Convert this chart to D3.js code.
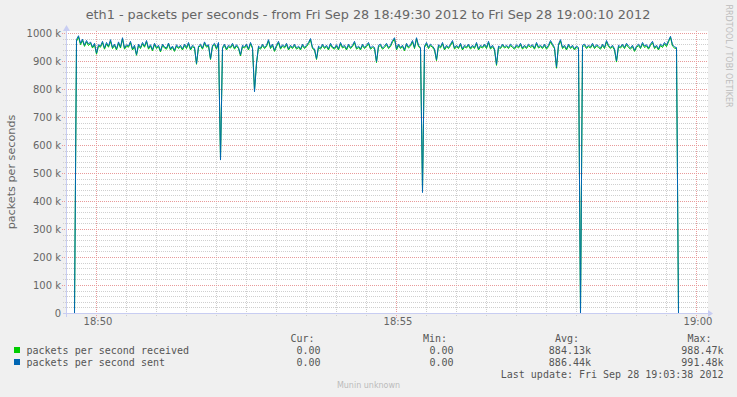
<!DOCTYPE html>
<html>
<head>
<meta charset="utf-8">
<title>eth1 - packets per seconds</title>
<script src="https://cdnjs.cloudflare.com/ajax/libs/d3/7.8.5/d3.min.js"></script>
<style>
  body { margin: 0; background: #f0f0f0; }
  svg text { font-family: "DejaVu Sans", sans-serif; fill: #666; }
  svg .mono { font-family: "DejaVu Sans Mono", monospace; font-size: 10px; fill: #555; }
</style>
</head>
<body>
<div id="chart"></div>
<script>
// samples every 2 s starting 18:49:30, values in k packets/s
var stepSeconds = 2;

var sent = [
  0,0,0,0,0,978,992,965,980,958,975,962,970,952,965,930,960,955,972,948,
  968,955,978,950,962,945,970,952,985,948,960,955,972,945,958,925,962,950,968,955,
  975,948,960,942,965,950,958,938,962,952,948,966,945,955,940,960,950,958,945,962,
  950,968,945,958,952,893,955,962,948,970,955,960,910,958,965,948,968,548,950,962,
  945,958,952,965,948,960,950,924,958,952,962,945,968,950,792,895,955,948,962,950,
  958,978,950,962,940,958,972,948,960,952,965,945,958,950,962,948,955,945,962,950,
  958,968,982,950,945,910,955,948,962,950,958,945,965,952,948,960,945,968,952,958,
  945,962,950,958,972,948,955,945,962,950,958,968,948,955,950,900,958,962,948,955,
  965,950,958,975,985,945,962,950,958,942,965,952,960,975,950,985,958,950,432,955,
  968,950,962,955,945,906,960,952,968,945,958,950,962,975,948,958,950,965,945,958,
  952,962,948,958,950,968,945,958,952,962,950,972,948,958,945,890,955,950,962,952,
  958,950,962,955,948,960,952,965,948,958,950,962,955,960,948,968,952,958,950,962,
  948,958,975,962,950,880,962,978,950,958,945,962,950,958,945,955,950,0,958,962,
  950,958,952,965,950,960,955,948,962,950,975,958,950,958,945,902,958,952,962,950,
  965,955,948,958,940,955,962,950,968,955,960,948,962,972,950,958,945,962,955,968,
  958,975,990,960,952,950,0,0,0,0,0,0,0,0,0,0,0,0,0,0,
  0
];

var received = [
  0,0,0,0,0,972,987,960,975,954,970,957,965,948,960,926,955,951,967,944,
  963,951,972,946,957,941,965,948,980,944,955,951,967,941,953,922,957,946,963,951,
  970,944,955,938,960,946,953,934,957,948,944,961,941,950,936,955,946,953,941,957,
  946,963,941,953,948,890,950,957,944,965,951,955,907,953,960,944,963,552,946,957,
  941,953,948,960,944,955,946,920,953,948,957,941,963,946,798,892,950,944,957,946,
  953,973,946,957,936,953,967,944,955,948,960,941,953,946,957,944,950,941,957,946,
  953,963,977,946,941,907,950,944,957,946,953,941,960,948,944,955,941,963,948,953,
  941,957,946,953,967,944,950,941,957,946,953,963,944,950,946,896,953,957,944,950,
  960,946,953,970,980,941,957,946,953,938,960,948,955,970,946,980,953,946,438,950,
  963,946,957,950,941,903,955,948,963,941,953,946,957,970,944,953,946,960,941,953,
  948,957,944,953,946,963,941,953,948,957,946,967,944,953,941,886,950,946,957,948,
  953,946,957,950,944,955,948,960,944,953,946,957,950,955,944,963,948,953,946,957,
  944,953,970,957,946,876,957,973,946,953,941,957,946,953,941,950,946,0,953,957,
  946,953,948,960,946,955,950,944,957,946,970,953,946,953,941,898,953,948,957,946,
  960,950,944,953,936,950,957,946,963,950,955,944,957,967,946,953,941,957,950,963,
  953,970,986,955,948,946,0,0,0,0,0,0,0,0,0,0,0,0,0,0,
  0
];

var yTicks = [0, 100000, 200000, 300000, 400000, 500000, 600000, 700000, 800000, 900000, 1000000];
var seriesNames = ["packets per second received", "packets per second sent"];
var seriesColors = ["#00cc00", "#0066b3"];
var curValues = ["0.00", "0.00"];
var minValues = ["0.00", "0.00"];
var avgValues = ["884.13k", "886.44k"];
var maxValues = ["988.47k", "991.48k"];

var startTime = new Date(2012, 8, 28, 18, 49, 30);
var endTime = new Date(2012, 8, 28, 19, 0, 10);

var W = 737, H = 397;
var axisColor = "#c8cdf2";
var minorColor = "#cfcfcf";
var majorColor = "#e89a9a";

var svg = d3.select("#chart").append("svg")
    .attr("width", W)
    .attr("height", H);

svg.append("rect").attr("width", W).attr("height", H).attr("fill", "#f0f0f0");

var x = d3.scaleTime().domain([startTime, endTime]).range([66.5, 706.5]);
var y = d3.scaleLinear().domain([0, 1000000]).range([313.5, 33.5]);

function crisp(v) { return Math.round(v - 0.5) + 0.5; }

// canvas
svg.append("rect")
    .attr("x", 67).attr("y", 31)
    .attr("width", 641).attr("height", 282)
    .attr("fill", "#ffffff");

// minor grid
var minorY = d3.range(20000, 1000001, 20000).filter(function(v) { return v % 100000 !== 0; });
svg.append("g").selectAll("line").data(minorY).enter().append("line")
    .attr("x1", 63).attr("x2", 708)
    .attr("y1", function(d) { return crisp(y(d)); })
    .attr("y2", function(d) { return crisp(y(d)); })
    .attr("stroke", minorColor).attr("stroke-dasharray", "1,1");

var minorX = d3.timeSecond.every(30).range(startTime, endTime)
    .filter(function(d) { return d > startTime && !(d.getSeconds() === 0 && d.getMinutes() % 5 === 0); });
svg.append("g").selectAll("line").data(minorX).enter().append("line")
    .attr("x1", function(d) { return crisp(x(d)); })
    .attr("x2", function(d) { return crisp(x(d)); })
    .attr("y1", 31).attr("y2", 317)
    .attr("stroke", minorColor).attr("stroke-dasharray", "1,1");

// major grid
svg.append("g").selectAll("line").data(yTicks.filter(function(v) { return v > 0; })).enter().append("line")
    .attr("x1", 62).attr("x2", 708)
    .attr("y1", function(d) { return crisp(y(d)); })
    .attr("y2", function(d) { return crisp(y(d)); })
    .attr("stroke", majorColor).attr("stroke-dasharray", "1,1");

var majorX = x.ticks(d3.timeMinute.every(5));
svg.append("g").selectAll("line").data(majorX).enter().append("line")
    .attr("x1", function(d) { return crisp(x(d)); })
    .attr("x2", function(d) { return crisp(x(d)); })
    .attr("y1", 31).attr("y2", 318)
    .attr("stroke", majorColor).attr("stroke-dasharray", "1,1");

// data lines
var sampleTimes = sent.map(function(v, i) { return new Date(+startTime + i * stepSeconds * 1000); });
var line = d3.line()
    .x(function(d) { return x(d[0]); })
    .y(function(d) { return y(d[1] * 1000); });

[received, sent].forEach(function(series, k) {
    svg.append("path")
        .datum(series.map(function(v, i) { return [sampleTimes[i], v]; }))
        .attr("d", line)
        .attr("fill", "none")
        .attr("stroke", seriesColors[k])
        .attr("stroke-width", 1);
});

// axes lines with arrows
svg.append("line").attr("x1", 66.5).attr("x2", 66.5).attr("y1", 29).attr("y2", 317)
    .attr("stroke", axisColor);
svg.append("line").attr("x1", 63).attr("x2", 709).attr("y1", 313.5).attr("y2", 313.5)
    .attr("stroke", axisColor);
svg.append("path").attr("d", "M63,31 L70,31 L66.5,25 Z").attr("fill", axisColor);
svg.append("path").attr("d", "M708,310 L708,317 L713,313.5 Z").attr("fill", axisColor);

// tick labels
var yAxis = d3.axisLeft(y)
    .tickValues(yTicks)
    .tickSize(0)
    .tickPadding(5.5)
    .tickFormat(function(d) { return d === 0 ? "0" : (d / 1000) + " k"; });
var gy = svg.append("g").attr("transform", "translate(66.5,0)").call(yAxis);
gy.select(".domain").remove();
gy.selectAll("text").attr("font-size", "10px").attr("font-family", null).style("fill", "#666");

var xAxis = d3.axisBottom(x)
    .tickValues(majorX)
    .tickSize(0)
    .tickPadding(4.5)
    .tickFormat(d3.timeFormat("%H:%M"));
var gx = svg.append("g").attr("transform", "translate(1,313.5)").call(xAxis);
gx.select(".domain").remove();
gx.selectAll("text").attr("font-size", "10px").attr("font-family", null).style("fill", "#666");

// title
svg.append("text")
    .attr("x", 368).attr("y", 18.5)
    .attr("text-anchor", "middle")
    .attr("font-size", "12.8px")
    .text("eth1 - packets per seconds - from Fri Sep 28 18:49:30 2012 to Fri Sep 28 19:00:10 2012");

// vertical label
svg.append("text")
    .attr("transform", "translate(14.5,172) rotate(-90)")
    .attr("text-anchor", "middle")
    .attr("font-size", "11.2px")
    .text("packets per seconds");

// watermark
svg.append("text")
    .attr("transform", "translate(725.5,56) rotate(90)")
    .attr("text-anchor", "middle")
    .attr("font-size", "8px")
    .style("fill", "#bdbdbd")
    .text("RRDTOOL / TOBI OETIKER");

// legend
var legend = svg.append("g");
legend.append("text").attr("class", "mono").attr("x", 290.5).attr("y", 341.5).text("Cur:");
legend.append("text").attr("class", "mono").attr("x", 423).attr("y", 341.5).text("Min:");
legend.append("text").attr("class", "mono").attr("x", 555).attr("y", 341.5).text("Avg:");
legend.append("text").attr("class", "mono").attr("x", 687.5).attr("y", 341.5).text("Max:");

seriesNames.forEach(function(name, k) {
    var by = 354 + k * 12;
    legend.append("rect").attr("x", 14).attr("y", by - 7).attr("width", 6).attr("height", 6)
        .attr("fill", seriesColors[k]);
    legend.append("text").attr("class", "mono").attr("x", 26.5).attr("y", by).text(name);
    legend.append("text").attr("class", "mono").attr("x", 320.5).attr("y", by)
        .attr("text-anchor", "end").text(curValues[k]);
    legend.append("text").attr("class", "mono").attr("x", 453.5).attr("y", by)
        .attr("text-anchor", "end").text(minValues[k]);
    legend.append("text").attr("class", "mono").attr("x", 591).attr("y", by)
        .attr("text-anchor", "end").text(avgValues[k]);
    legend.append("text").attr("class", "mono").attr("x", 723.5).attr("y", by)
        .attr("text-anchor", "end").text(maxValues[k]);
});

legend.append("text").attr("class", "mono").attr("x", 723.5).attr("y", 378)
    .attr("text-anchor", "end").text("Last update: Fri Sep 28 19:03:38 2012");

svg.append("text")
    .attr("x", 368.5).attr("y", 388)
    .attr("text-anchor", "middle")
    .attr("font-size", "8px")
    .style("fill", "#bbbbbb")
    .text("Munin unknown");
</script>
</body>
</html>
